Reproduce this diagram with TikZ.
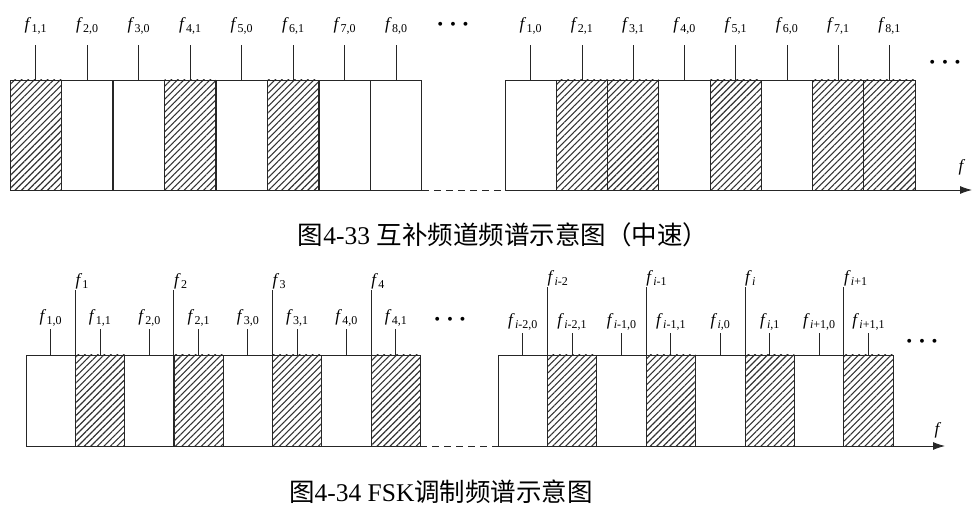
\documentclass[tikz,border=0pt]{standalone}
\usepackage{fontspec}
\setmainfont{Liberation Serif}
\newfontfamily\cjk{Noto Sans CJK SC}
\usetikzlibrary{arrows.meta,positioning,patterns.meta}
\newcommand\fch[1]{\textit{f}\kern0.3pt\raisebox{-3pt}{\fontsize{12}{12}\selectfont#1}}

\begin{document}
\begin{tikzpicture}[
  x=1pt,y=1pt,
  font=\fontsize{17}{19}\selectfont,
  chan/.style={draw=black!85,line width=0.9pt,anchor=south west,inner sep=0pt,outer sep=0pt},
  topch/.style={chan,minimum width=51.4pt,minimum height=110pt},
  lowch/.style={chan,minimum width=49.35pt,minimum height=91pt},
  hatch/.style={pattern={Lines[angle=45,distance=4.6pt,line width=1.1pt]},pattern color=black!80},
  ch0/.style={},
  ch1/.style={hatch},
  lab/.style={inner sep=0pt},
  tick/.style={line width=0.9pt,black!85},
  gapline/.style={line width=0.9pt,black!85,dash pattern=on 7pt off 5pt},
  axis/.style={line width=0.9pt,black!85,-{Latex[length=12pt,width=8pt]}},
  dots/.style={inner sep=0pt,font=\fontsize{24}{24}\selectfont\boldmath},
  captext/.style={inner sep=0pt,font=\fontsize{25.5}{27}\selectfont},
]
\useasboundingbox (0,0) rectangle (976,511);

% top: complementary channels, left group
\foreach \i/\s [count=\n from 0] in {1/1,2/0,3/0,4/1,5/0,6/1,7/0,8/0}{
  \node[topch,ch\s] (a\i) at (10+\n*51.5,321) {};
  \node[lab,above=45pt of a\i.north] (la\i) {\fch{\i,\s}};
  \draw[tick,shorten >=10pt] (a\i.north) -- (la\i.south);
}
\node[dots] (ta) at (453,486) {$\cdots$};
% top: right group
\foreach \i/\s [count=\n from 0] in {1/0,2/1,3/1,4/0,5/1,6/0,7/1,8/1}{
  \node[topch,ch\s] (c\i) at (505+\n*51.25,321) {};
  \node[lab,above=45pt of c\i.north] (lc\i) {\fch{\i,\s}};
  \draw[tick,shorten >=10pt] (c\i.north) -- (lc\i.south);
}
\node[dots] (tc) at (945,448) {$\cdots$};
\draw[gapline] (a8.south east) -- (c1.south west);
\coordinate (topend) at (972,321);
\draw[axis] (c8.south east) -- (topend);
\node[lab] (tf) at (962,344) {\textit{f}};
\node[captext] (cap1) at (503,276) {{\cjk 图}4-33 {\cjk 互补频道频谱示意图（中速）}};

% bottom: FSK, left group
\foreach \i/\s [count=\n from 0] in {1/0,1/1,2/0,2/1,3/0,3/1,4/0,4/1}{
  \node[lowch,ch\s] (b\n) at (26+\n*49.3,65) {};
  \node[lab,above=28pt of b\n.north] (lb\n) {\fch{\i,\s}};
  \draw[tick,shorten >=2pt] (b\n.north) -- (lb\n.south);
}
\foreach \j/\k in {1/1,3/2,5/3,7/4}{
  \coordinate (p\j) at ([yshift=65pt]b\j.north west);
  \draw[tick] (b\j.north west) -- (p\j);
  \node[lab,anchor=south west] (tp\j) at ([yshift=1pt]p\j) {\fch{\k}};
}
\node[dots] (tb) at (450,191) {$\cdots$};
% bottom: right group
\foreach \k/\s [count=\n from 0] in {{\textit{i}-2}/0,{\textit{i}-2}/1,{\textit{i}-1}/0,{\textit{i}-1}/1,%
    \textit{i}/0,\textit{i}/1,{\textit{i}+1}/0,{\textit{i}+1}/1}{
  \node[lowch,ch\s] (d\n) at (498+\n*49.4,65) {};
  \node[lab,above=24pt of d\n.north] (ld\n) {\fch{\k,\s}};
  \draw[tick,shorten >=2pt] (d\n.north) -- (ld\n.south);
}
\foreach \j/\k in {1/{\textit{i}-2},3/{\textit{i}-1},5/\textit{i},7/{\textit{i}+1}}{
  \coordinate (q\j) at ([yshift=68pt]d\j.north west);
  \draw[tick] (d\j.north west) -- (q\j);
  \node[lab,anchor=south west] (tq\j) at ([yshift=1pt]q\j) {\fch{\k}};
}
\node[dots] (td) at (922,169) {$\cdots$};
\draw[gapline] (b7.south east) -- (d0.south west);
\coordinate (lowend) at (945,65);
\draw[axis] (d7.south east) -- (lowend);
\node[lab] (bf) at (938,81) {\textit{f}};
\node[captext] (cap2) at (441,19) {{\cjk 图}4-34 FSK{\cjk 调制频谱示意图}};
\end{tikzpicture}
\end{document}
